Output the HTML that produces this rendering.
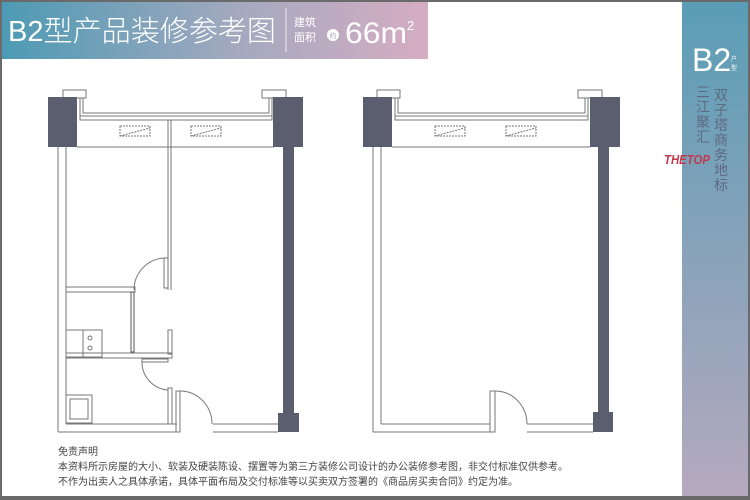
<!DOCTYPE html>
<html><head><meta charset="utf-8"><style>
html,body{margin:0;padding:0;width:750px;height:500px;overflow:hidden;background:#fff}
</style></head><body>
<div style="position:absolute;left:0;top:0;width:750px;height:500px;box-sizing:border-box;border:2px solid #6a6a6a;border-bottom-width:4px"></div>
<svg width="750" height="500" style="position:absolute;left:0;top:0" font-family="Liberation Sans, Noto Sans CJK SC, sans-serif">
<defs>
<linearGradient id="hg" x1="0" x2="1" y1="0" y2="0"><stop offset="0" stop-color="#4d9ab4"/><stop offset="0.55" stop-color="#a3a9bf"/><stop offset="1" stop-color="#d6adc3"/></linearGradient>
<linearGradient id="sg" x1="0" x2="0" y1="0" y2="1"><stop offset="0" stop-color="#5a9db6"/><stop offset="1" stop-color="#b5a9be"/></linearGradient>
</defs>
<rect x="2" y="2" width="426" height="57" fill="url(#hg)"/>
<text x="8" y="41" font-size="29" fill="#fff" font-weight="300" textLength="268" lengthAdjust="spacingAndGlyphs" font-family="Liberation Sans, Noto Sans CJK SC, sans-serif">B2型产品装修参考图</text>
<line x1="286" y1="8" x2="286" y2="52" stroke="#eee" stroke-width="1"/>
<text x="294" y="26" font-size="11" fill="#fff">建筑</text>
<text x="294" y="41" font-size="11" fill="#fff">面积</text>
<circle cx="333" cy="35" r="6" fill="#fff"/>
<text x="333" y="38" font-size="7" fill="#a5a9bf" text-anchor="middle">约</text>
<text x="345" y="43" font-size="30" fill="#fff" textLength="62" lengthAdjust="spacingAndGlyphs">66m</text>
<text x="407" y="30" font-size="13" fill="#fff">2</text>
<rect x="682" y="2" width="66" height="494" fill="url(#sg)"/>
<text x="692" y="71" font-size="32" fill="#fff">B2</text>
<text x="731" y="61" font-size="6" fill="#fff">户</text>
<text x="731" y="70" font-size="6" fill="#fff">型</text>
<g font-size="14" fill="#5d6a82" text-anchor="middle">
<text x="721" y="100">双</text><text x="721" y="115">子</text><text x="721" y="130">塔</text><text x="721" y="145">商</text><text x="721" y="160">务</text><text x="721" y="175">地</text><text x="721" y="190">标</text>
<text x="703" y="97">三</text><text x="703" y="112">江</text><text x="703" y="127">聚</text><text x="703" y="142">汇</text>
</g>
<text x="664" y="164" font-size="13" font-style="italic" font-weight="bold" fill="#c0394d" textLength="46" lengthAdjust="spacingAndGlyphs">THETOP</text>

<g stroke="#777" stroke-width="1" fill="none">
<rect x="63" y="90" width="23" height="8" fill="#fff"/>
<rect x="262" y="90" width="24" height="8" fill="#fff"/>
<path d="M80 98 V120 H272 V98 M83 98 V113 H269 V98"/>
<line x1="80" y1="116" x2="272" y2="116"/>
<rect x="120" y="126" width="30" height="10" stroke-dasharray="2,1"/>
<rect x="191" y="126" width="30" height="10" stroke-dasharray="2,1"/>
<line x1="120" y1="136" x2="150" y2="128" stroke-dasharray="2,1"/>
<line x1="191" y1="136" x2="221" y2="128" stroke-dasharray="2,1"/>
<line x1="77" y1="147" x2="274" y2="147"/>
<line x1="58" y1="147" x2="58" y2="432"/><line x1="66" y1="147" x2="66" y2="424"/>
<line x1="58" y1="432" x2="177" y2="432"/><line x1="66" y1="424" x2="177" y2="424"/>
<line x1="213" y1="432" x2="278" y2="432"/><line x1="213" y1="424" x2="278" y2="424"/>
<line x1="168" y1="120" x2="168" y2="290"/><line x1="171" y1="120" x2="171" y2="290"/>
<rect x="164" y="258" width="4" height="30"/>
<path d="M164 258 A32 32 0 0 0 134 290"/>
<rect x="66" y="287" width="69" height="5"/>
<rect x="131" y="292" width="3" height="60" stroke="#555"/>
<rect x="66" y="330" width="36" height="27"/><line x1="83" y1="330" x2="83" y2="357"/>
<circle cx="90" cy="338" r="2"/><circle cx="90" cy="348" r="2"/>
<rect x="66" y="353" width="106" height="5"/>
<rect x="168" y="330" width="4" height="24"/>
<rect x="142" y="359" width="26" height="3"/>
<path d="M142 362 A28 28 0 0 0 168 390"/>
<rect x="168" y="388" width="4" height="36"/><rect x="176" y="391" width="4" height="41"/>
<path d="M180 391 A32 33 0 0 1 212 424"/>
<rect x="66" y="395" width="26" height="28"/><rect x="70" y="399" width="18" height="20"/>
<rect x="377" y="90" width="23" height="8" fill="#fff"/>
<rect x="578" y="90" width="24" height="8" fill="#fff"/>
<path d="M395 98 V120 H588 V98 M398 98 V113 H585 V98"/>
<line x1="395" y1="116" x2="588" y2="116"/>
<rect x="435" y="126" width="30" height="10" stroke-dasharray="2,1"/>
<rect x="506" y="126" width="30" height="10" stroke-dasharray="2,1"/>
<line x1="435" y1="136" x2="465" y2="128" stroke-dasharray="2,1"/>
<line x1="506" y1="136" x2="536" y2="128" stroke-dasharray="2,1"/>
<line x1="392" y1="147" x2="590" y2="147"/>
<line x1="373" y1="147" x2="373" y2="432"/><line x1="381" y1="147" x2="381" y2="424"/>
<line x1="373" y1="432" x2="492" y2="432"/><line x1="381" y1="424" x2="490" y2="424"/>
<line x1="527" y1="432" x2="593" y2="432"/><line x1="527" y1="424" x2="593" y2="424"/>
<rect x="490" y="391" width="5" height="41"/>
<path d="M495 391 A32 33 0 0 1 527 424"/>
</g>
<g fill="#5b5e6e">
<rect x="48" y="97" width="29" height="50"/>
<rect x="273" y="97" width="30" height="50"/>
<rect x="283" y="147" width="11" height="266"/>
<rect x="278" y="413" width="21" height="19"/>
<rect x="363" y="97" width="29" height="50"/>
<rect x="590" y="97" width="30" height="50"/>
<rect x="598" y="147" width="11" height="266"/>
<rect x="593" y="412" width="20" height="20"/>
</g>
<g font-size="10" fill="#444">
<text x="58" y="455">免责声明</text>
<text x="58" y="470">本资料所示房屋的大小、软装及硬装陈设、摆置等为第三方装修公司设计的办公装修参考图，非交付标准仅供参考。</text>
<text x="58" y="485">不作为出卖人之具体承诺，具体平面布局及交付标准等以买卖双方签署的《商品房买卖合同》约定为准。</text>
</g>
</svg>
</body></html>
